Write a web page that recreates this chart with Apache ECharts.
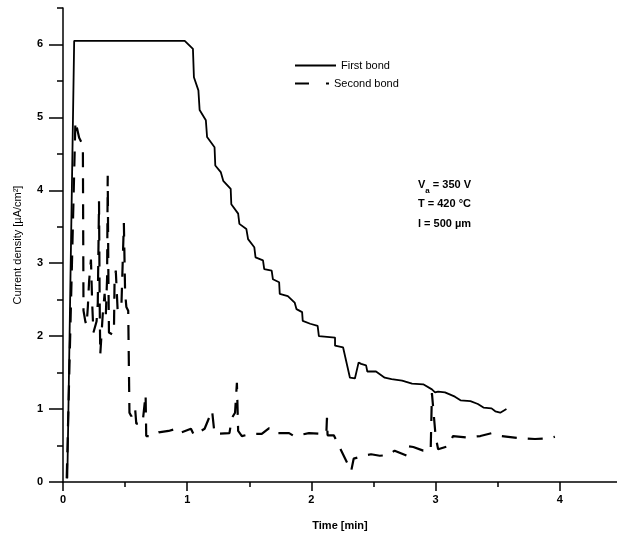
<!DOCTYPE html>
<html><head><meta charset="utf-8">
<script src="https://cdn.jsdelivr.net/npm/echarts@6/dist/echarts.min.js"></script>
<style>html,body{margin:0;padding:0;background:#fff}#c{width:617px;height:539px}</style>
</head><body><div id="c"></div>
<script>
// Tick values
const xMajorTicks = [0, 1, 2, 3, 4];
const xMinorTicks = [0.5, 1.5, 2.5, 3.5];
const yMajorTicks = [0, 1, 2, 3, 4, 5, 6];
const yMinorTicks = [0.5, 1.5, 2.5, 3.5, 4.5, 5.5, 6.5];
const seriesNames = ['First bond', 'Second bond'];

// First bond: [time (min), current density (uA/cm2)]
const firstBond = [[0.035,0.05],[0.09,6.05],[0.98,6.05],[1.046,5.94],[1.054,5.55],[1.09,5.37],[1.10,5.10],[1.15,4.96],[1.16,4.73],[1.22,4.59],[1.226,4.34],[1.27,4.25],[1.29,4.13],[1.35,4.02],[1.355,3.81],[1.41,3.68],[1.42,3.54],[1.476,3.47],[1.49,3.33],[1.54,3.22],[1.55,3.08],[1.61,3.04],[1.62,2.92],[1.68,2.90],[1.69,2.78],[1.74,2.74],[1.745,2.58],[1.81,2.55],[1.865,2.46],[1.88,2.37],[1.925,2.33],[1.93,2.21],[1.99,2.17],[2.05,2.14],[2.06,2.0],[2.19,1.98],[2.19,1.87],[2.255,1.845],[2.31,1.43],[2.35,1.42],[2.38,1.64],[2.40,1.62],[2.44,1.60],[2.45,1.515],[2.52,1.515],[2.59,1.43],[2.645,1.41],[2.73,1.39],[2.81,1.35],[2.90,1.34],[2.97,1.27],[2.995,1.23],[3.02,1.24],[3.075,1.23],[3.155,1.17],[3.20,1.12],[3.28,1.11],[3.34,1.07],[3.385,1.02],[3.45,1.01],[3.48,0.97],[3.52,0.95],[3.57,1.0]];

// Second bond
const secondBond = [[0.03,0.05],[0.10,4.95],[0.13,4.72],[0.16,4.62],[0.165,2.35],[0.18,2.2],[0.19,2.15],[0.2,2.4],[0.21,2.75],[0.225,3.05],[0.235,2.45],[0.245,2.05],[0.27,2.2],[0.28,2.45],[0.29,3.85],[0.295,2.5],[0.3,1.75],[0.32,2.3],[0.335,2.58],[0.345,2.3],[0.355,2.8],[0.36,4.2],[0.365,2.9],[0.37,2.05],[0.4,2.02],[0.41,2.05],[0.415,2.75],[0.425,2.9],[0.44,2.35],[0.47,2.4],[0.49,3.55],[0.5,2.6],[0.51,2.4],[0.525,2.35],[0.535,0.95],[0.55,0.9],[0.58,1.02],[0.59,0.8],[0.64,0.8],[0.665,1.2],[0.67,0.63],[0.73,0.63],[0.77,0.68],[0.85,0.7],[0.89,0.72],[0.92,0.66],[1.03,0.73],[1.055,0.64],[1.14,0.73],[1.2,0.98],[1.22,0.66],[1.34,0.67],[1.36,0.88],[1.385,0.95],[1.40,1.36],[1.41,0.7],[1.44,0.63],[1.52,0.66],[1.6,0.66],[1.66,0.74],[1.71,0.67],[1.82,0.67],[1.86,0.63],[1.98,0.67],[2.08,0.66],[2.12,0.66],[2.125,0.88],[2.13,0.64],[2.18,0.64],[2.32,0.15],[2.34,0.32],[2.42,0.36],[2.48,0.38],[2.55,0.36],[2.62,0.37],[2.67,0.43],[2.77,0.36],[2.78,0.49],[2.82,0.48],[2.9,0.43],[2.96,0.43],[2.97,1.22],[3.0,0.62],[3.02,0.45],[3.1,0.49],[3.14,0.63],[3.25,0.61],[3.36,0.63],[3.45,0.67],[3.53,0.63],[3.68,0.6],[3.8,0.59],[3.92,0.6],[3.96,0.62]];

const FONT = '"Liberation Sans", Arial, sans-serif';
const chart = echarts.init(document.getElementById('c'), null, {renderer: 'canvas'});
const labelStyle = {color: '#000', fontFamily: FONT, fontSize: 11, fontWeight: 'bold'};
const axisLineStyle = {color: '#000', width: 1.5};

chart.setOption({
  animation: false,
  backgroundColor: '#fff',
  grid: {left: 63, right: 0, top: 8, bottom: 57, containLabel: false, outerBoundsMode: 'none'},
  xAxis: [{
    type: 'value', min: 0, max: 4.46,
    name: 'Time [min]', nameLocation: 'middle', nameGap: 38,
    nameTextStyle: {color: '#000', fontFamily: FONT, fontSize: 11, fontWeight: 'bold'},
    axisLine: {show: true, lineStyle: axisLineStyle},
    axisTick: {show: true, inside: false, length: 9, lineStyle: axisLineStyle, customValues: xMajorTicks},
    axisLabel: Object.assign({show: true, margin: 12, customValues: xMajorTicks, formatter: v => String(v)}, labelStyle),
    splitLine: {show: false}
  }, {
    type: 'value', min: 0, max: 4.46, position: 'bottom',
    axisLine: {show: false},
    axisTick: {show: true, inside: false, length: 5, lineStyle: axisLineStyle, customValues: xMinorTicks},
    axisLabel: {show: false},
    splitLine: {show: false}
  }],
  yAxis: [{
    type: 'value', min: 0, max: 6.5,
    name: 'Current density [\u00b5A/cm\u00b2]', nameLocation: 'middle', nameGap: 40, nameRotate: 90,
    nameTextStyle: {color: '#000', fontFamily: FONT, fontSize: 11},
    axisLine: {show: true, lineStyle: axisLineStyle},
    axisTick: {show: true, inside: false, length: 14, lineStyle: axisLineStyle, customValues: yMajorTicks},
    axisLabel: Object.assign({show: true, margin: 20, customValues: yMajorTicks, formatter: v => String(v)}, labelStyle),
    splitLine: {show: false}
  }, {
    type: 'value', min: 0, max: 6.5, position: 'left',
    axisLine: {show: false},
    axisTick: {show: true, inside: false, length: 6, lineStyle: axisLineStyle, customValues: yMinorTicks},
    axisLabel: {show: false},
    splitLine: {show: false}
  }],
  legend: [{
    data: [seriesNames[0]], left: 289, top: 55, itemWidth: 41, itemHeight: 14,
    itemStyle: {opacity: 0},
    textStyle: {color: '#000', fontFamily: FONT, fontSize: 11}, selectedMode: false
  }, {
    data: [{name: seriesNames[1], lineStyle: {type: [14, 17], width: 2, color: '#000'}}], left: 289, top: 73, itemWidth: 34, itemHeight: 14,
    itemStyle: {opacity: 0},
    textStyle: {color: '#000', fontFamily: FONT, fontSize: 11}, selectedMode: false
  }],
  graphic: [{
    type: 'text', left: 418, top: 175,
    style: {
      text: 'V{s|a} = 350 V\nT = 420 \u00b0C\nl = 500 \u00b5m',
      fill: '#000', font: 'bold 11px ' + FONT, lineHeight: 19.5,
      rich: {s: {fontSize: 8, fontFamily: FONT, fontWeight: 'bold', verticalAlign: 'bottom', padding: [6, 0, 0, 0]}}
    }
  }],
  series: [{
    name: seriesNames[0], type: 'line', data: firstBond, showSymbol: false, symbol: 'none',
    lineStyle: {color: '#000', width: 1.8}, itemStyle: {color: '#000'}, z: 3
  }, {
    name: seriesNames[1], type: 'line', data: secondBond, showSymbol: false, symbol: 'none',
    lineStyle: {color: '#000', width: 2.2, type: [15, 11]}, itemStyle: {color: '#000'}, z: 2
  }]
});
</script></body></html>
